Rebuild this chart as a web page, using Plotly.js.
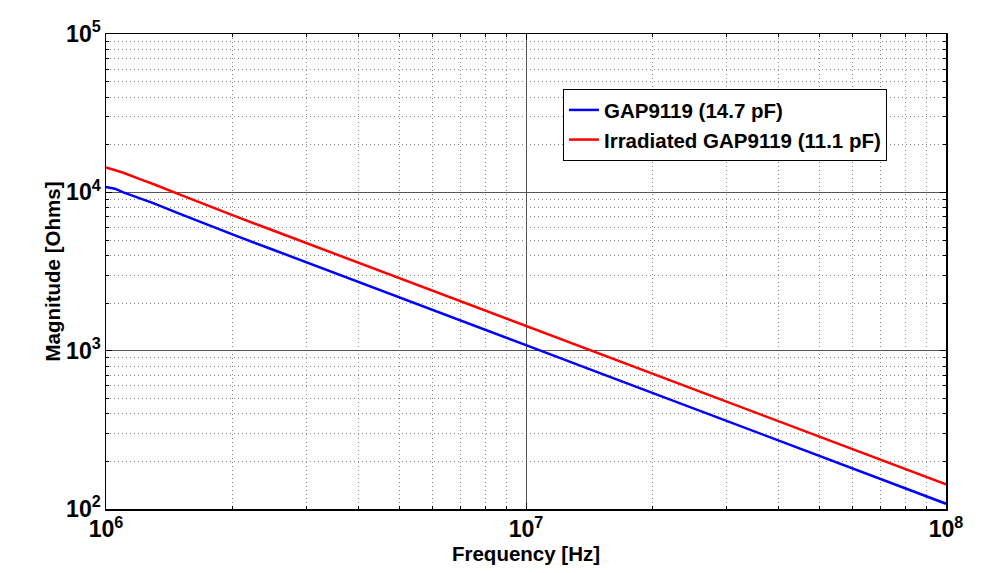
<!DOCTYPE html>
<html>
<head>
<meta charset="utf-8">
<script src="https://cdn.plot.ly/plotly-3.0.1.min.js"></script>
<style>html,body{margin:0;padding:0;background:#fff;}#chart{width:981px;height:573px;}</style>
</head>
<body>
<div id="chart"></div>
<script>
var freq = [1e6, 1.05e6, 1.1e6, 1.2e6, 1.3e6, 1.5e6, 1.7e6, 2e6, 2.5e6, 3e6, 4e6, 5e6, 7e6, 1e7, 1.5e7, 2e7, 3e7, 5e7, 7e7, 1e8];
var blueMag = [10800, 10550, 10000, 9250, 8520, 7320, 6420, 5420, 4340, 3610, 2710, 2165, 1545, 1083, 722, 541, 361, 217, 155, 108];
var redMag = [14350, 13850, 13300, 12150, 11250, 9680, 8480, 7170, 5740, 4780, 3585, 2870, 2050, 1434, 956, 717, 478, 287, 205, 143];
var blueName = 'GAP9119 (14.7 pF)';
var redName = 'Irradiated GAP9119 (11.1 pF)';

var fam = 'Liberation Sans, Arial, Helvetica, sans-serif';
var tickFont = {family: fam, size: 18.5, color: '#000', weight: 'bold'};
var titleFont = {family: fam, size: 20.5, color: '#000', weight: 'bold'};
var legendFont = {family: fam, size: 20.5, color: '#000', weight: 'bold'};

var traces = [
  {x: freq, y: blueMag, name: blueName, type: 'scatter', mode: 'lines', line: {color: '#0000ff', width: 2.5}},
  {x: freq, y: redMag, name: redName, type: 'scatter', mode: 'lines', line: {color: '#ff0000', width: 2.5}}
];

var axisCommon = {
  type: 'log',
  dtick: 1,
  exponentformat: 'power',
  showexponent: 'all',
  showline: true,
  linecolor: '#000',
  linewidth: 1.5,
  mirror: 'ticks',
  ticks: 'inside',
  ticklen: 6,
  tickcolor: '#000',
  showgrid: true,
  gridcolor: '#555',
  gridwidth: 1,
  zeroline: false,
  tickfont: tickFont,
  minor: {showgrid: true, gridcolor: '#888', griddash: '1px,3px', gridwidth: 1, ticks: 'inside', ticklen: 3, tickcolor: '#000', dtick: 'D1'}
};

var layout = {
  width: 981, height: 573,
  margin: {l: 106, r: 35, t: 34, b: 64},
  paper_bgcolor: '#fff', plot_bgcolor: '#fff',
  font: tickFont,
  showlegend: true,
  legend: {x: 0.544, y: 0.884, xanchor: 'left', yanchor: 'top', bgcolor: '#fff', bordercolor: '#000', borderwidth: 1, font: legendFont, tracegroupgap: 0},
  xaxis: Object.assign({}, axisCommon, {range: [6, 8], title: {text: 'Frequency [Hz]', font: titleFont, standoff: 2}}),
  yaxis: Object.assign({}, axisCommon, {range: [2, 5], title: {text: 'Magnitude [Ohms]', font: titleFont, standoff: 0}})
};

Plotly.newPlot('chart', traces, layout, {staticPlot: true, displayModeBar: false});
</script>
</body>
</html>
